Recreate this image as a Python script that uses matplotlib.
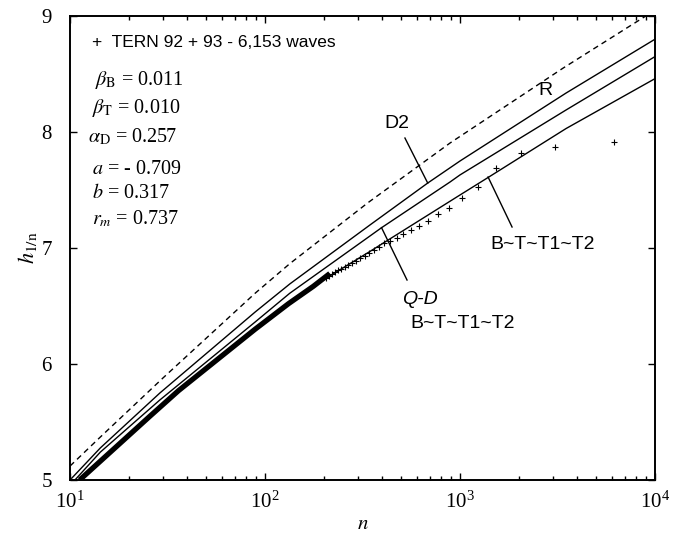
import matplotlib
matplotlib.use("Agg")
import matplotlib.pyplot as plt
from matplotlib.ticker import LogLocator, NullLocator

plt.rcParams['font.family'] = ['Liberation Serif', 'DejaVu Serif']
plt.rcParams['mathtext.fontset'] = 'stix'

# Curves: n values and h_{1/n}
r_n = [10, 14.3, 30, 89, 134, 337, 889, 3372, 10000]
r_h = [5.12, 5.37, 5.88, 6.61, 6.865, 7.39, 7.905, 8.55, 9.05]

d2_n = [10.2, 14.3, 28.9, 89, 134, 345, 683, 1000, 3500, 10000]
d2_h = [5.015, 5.276, 5.75, 6.448, 6.69, 7.198, 7.56, 7.75, 8.336, 8.80]

qd_n = [10.6, 14.3, 28.9, 89, 134, 345, 396, 889, 1000, 3500, 10000]
qd_h = [5.0, 5.24, 5.69, 6.362, 6.61, 7.103, 7.175, 7.569, 7.63, 8.19, 8.65]

bt_n = [11.2, 36, 89, 164, 345, 1000, 1400, 3500, 10000]
bt_h = [5.0, 5.77, 6.31, 6.638, 6.97, 7.457, 7.61, 8.03, 8.46]

# Measured waves (sparse crosses)
wave_n = [6153, 3077, 2051, 1538, 1231, 1026, 879, 769, 684, 615, 559, 513,
          473, 440, 410, 385, 362, 342, 324, 308, 293, 280, 267, 256, 246,
          237, 228, 220, 212, 205]
wave_h = [7.915, 7.873, 7.816, 7.687, 7.529, 7.43, 7.345, 7.295, 7.231, 7.19,
          7.155, 7.122, 7.09, 7.058, 7.04, 7.01, 6.983, 6.954, 6.93, 6.91,
          6.89, 6.87, 6.855, 6.84, 6.82, 6.81, 6.79, 6.775, 6.76, 6.745]
# Dense part of the measured waves (overlapping crosses form a band)
band_n = [11.2, 25.7, 36, 89, 132, 177, 215]
band_h = [5.0, 5.55, 5.77, 6.30, 6.52, 6.67, 6.78]

params = [r'$\beta_{\mathrm{B}}$ = 0.011', r'$\beta_{\mathrm{T}}$ = 0.010',
          r'$\alpha_{\mathrm{D}}$ = 0.257', r'$a$ = - 0.709',
          r'$b$ = 0.317', r'$r_m$ = 0.737']
yticks = [5, 6, 7, 8, 9]

fig = plt.figure(figsize=(6.83, 5.4), dpi=100)
ax = fig.add_axes([70/683, 1-480/540, 585/683, 464/540])

ax.plot(r_n, r_h, color='black', lw=1.0, ls=(0, (4, 3)))
ax.plot(d2_n, d2_h, color='black', lw=1.0)
ax.plot(qd_n, qd_h, color='black', lw=1.0)
ax.plot(bt_n, bt_h, color='black', lw=1.0)
ax.plot(band_n, band_h, color='black', lw=3.8, solid_capstyle='butt')
ax.plot(wave_n, wave_h, ls='none', marker='+', ms=5, mew=0.8, color='black')

ax.set_xscale('log')
ax.set_xlim(10, 10000)
ax.set_ylim(5, 9)
ax.set_yticks(yticks)
ax.yaxis.set_minor_locator(NullLocator())
ax.xaxis.set_major_locator(LogLocator(base=10, numticks=10))
ax.xaxis.set_minor_locator(LogLocator(base=10, subs=range(2, 10), numticks=20))

for s in ax.spines.values():
    s.set_linewidth(1.4)
ax.tick_params(which='both', direction='in', top=True, right=True, width=1.0)
ax.tick_params(which='major', length=5, labelsize=15)
ax.tick_params(axis='y', which='major', pad=13)
ax.tick_params(axis='x', which='major', pad=8)
ax.tick_params(which='minor', length=3)

ax.set_xlabel('$n$', fontsize=15, labelpad=2)
ax.set_ylabel(r'$h_{\mathrm{1/n}}$', fontsize=16, labelpad=2)

sans = ['Liberation Sans', 'DejaVu Sans']
ax.text(0.0376, 0.942, '+  TERN 92 + 93 - 6,153 waves', transform=ax.transAxes,
        family=sans, fontsize=12.5, va='center', ha='left')
px = [95, 92, 88, 92, 92, 92]
py = [80, 108, 137, 170, 194, 219]
for t, x, y in zip(params, px, py):
    ax.text((x-70)/585, (480-y)/464, t, transform=ax.transAxes,
            fontsize=14.5, va='center', ha='left')

ax.text(2729, 8.362, 'R', family=sans, fontsize=14, ha='center', va='center')
ax.text(475, 8.069, 'D2', family=sans, fontsize=14, ha='center', va='center')
ax.text(623, 6.552, 'Q-D', family=sans, fontsize=14, style='italic',
        ha='center', va='center')
ax.text(1035, 6.353, 'B~T~T1~T2', family=sans, fontsize=14, ha='center', va='center')
ax.text(2668, 7.026, 'B~T~T1~T2', family=sans, fontsize=14, ha='center', va='center')

ax.plot([522, 683], [7.948, 7.56], color='black', lw=1.0)
ax.plot([396, 535], [7.175, 6.724], color='black', lw=1.0)
ax.plot([1393, 1849], [7.612, 7.181], color='black', lw=1.0)

fig.savefig('out.png', dpi=100)
